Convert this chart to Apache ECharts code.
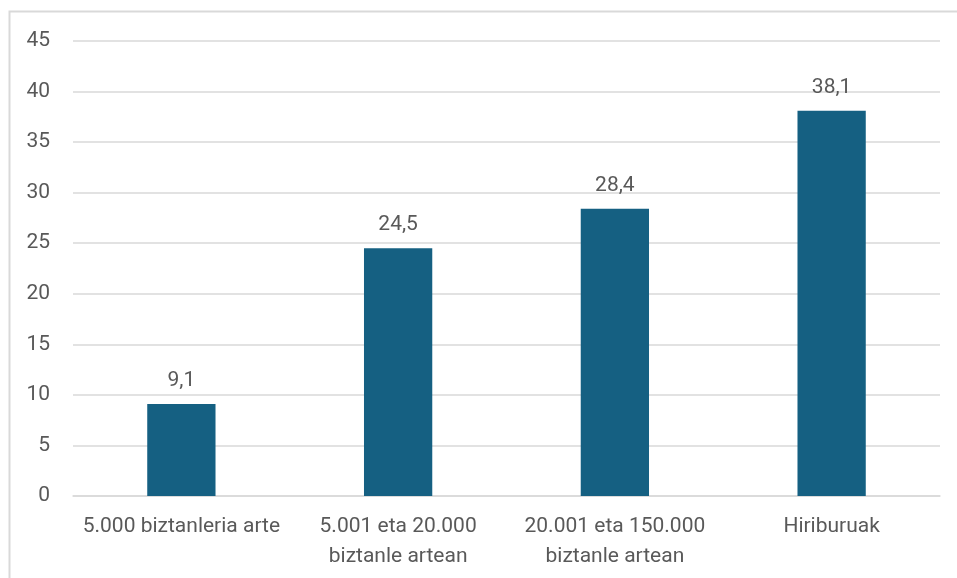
<!DOCTYPE html>
<html>
<head>
<meta charset="utf-8">
<script src="https://cdn.jsdelivr.net/npm/echarts@6/dist/echarts.min.js"></script>
<style>
  html, body { margin: 0; padding: 0; background: #ffffff; }
  #chart { width: 957px; height: 578px; }
</style>
</head>
<body>
<div id="chart"></div>
<script>
// Population size bands and their values
const categories = [
  '5.000 biztanleria arte',
  '5.001 eta 20.000\nbiztanle artean',
  '20.001 eta 150.000\nbiztanle artean',
  'Hiriburuak'
];
const values = [9.1, 24.5, 28.4, 38.1];
const yTicks = [0, 5, 10, 15, 20, 25, 30, 35, 40, 45];

const fontFamily = 'Roboto, "Noto Sans", sans-serif';
const textColor = '#595959';
const gridColor = '#d9d9d9';

const chart = echarts.init(document.getElementById('chart'), null, { renderer: 'canvas' });

chart.setOption({
  backgroundColor: '#ffffff',
  animation: false,
  graphic: [{
    type: 'rect',
    shape: { x: 9.5, y: 11.5, width: 1000, height: 1000 },
    style: { fill: 'none', stroke: '#d9d9d9', lineWidth: 2 },
    silent: true
  }],
  grid: { left: 73, right: 17, top: 41, bottom: 82 },
  xAxis: {
    type: 'category',
    data: categories,
    axisLine: { show: true, lineStyle: { color: gridColor, width: 1.5 } },
    axisTick: { show: false },
    axisLabel: {
      color: textColor,
      fontFamily: fontFamily,
      fontSize: 21,
      lineHeight: 30,
      margin: 16,
      interval: 0
    }
  },
  yAxis: {
    type: 'value',
    min: yTicks[0],
    max: yTicks[yTicks.length - 1],
    interval: 5,
    axisLine: { show: false },
    axisTick: { show: false },
    splitLine: { lineStyle: { color: gridColor, width: 1.5 } },
    axisLabel: {
      color: textColor,
      fontFamily: fontFamily,
      fontSize: 21,
      margin: 23
    }
  },
  series: [{
    type: 'bar',
    data: values,
    barWidth: '31.5%',
    itemStyle: { color: '#156082' },
    label: {
      show: true,
      position: 'top',
      distance: 13,
      color: textColor,
      fontFamily: fontFamily,
      fontSize: 21,
      formatter: p => String(p.value).replace('.', ',')
    }
  }]
});
</script>
</body>
</html>
